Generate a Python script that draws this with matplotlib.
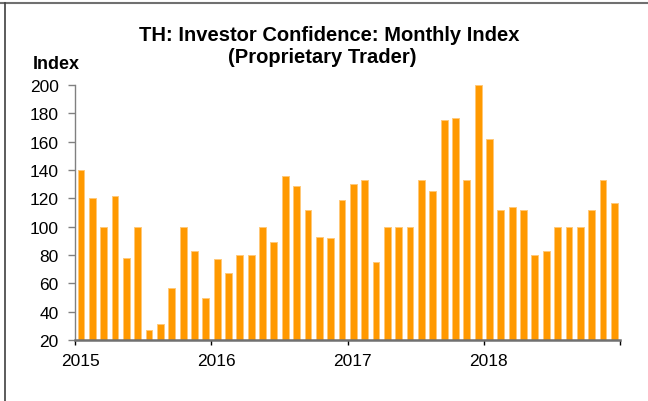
import matplotlib.pyplot as plt
from matplotlib.transforms import ScaledTranslation
import numpy as np

plt.rcParams['font.family'] = ['Liberation Sans', 'DejaVu Sans']

# monthly index, Jan 2015 - Dec 2018
years = ['2015', '2016', '2017', '2018']
values_2015 = [140, 120, 100, 122, 78, 100, 27, 31, 57, 100, 83, 50]
values_2016 = [77, 67, 80, 80, 100, 89, 136, 129, 112, 93, 92, 119]
values_2017 = [130, 133, 75, 100, 100, 100, 133, 125, 175, 177, 133, 200]
values_2018 = [162, 112, 114, 112, 80, 83, 100, 100, 100, 112, 133, 117]
values = values_2015 + values_2016 + values_2017 + values_2018

W, H = 648, 402
fig = plt.figure(figsize=(W / 100, H / 100), dpi=100)
ax = fig.add_axes([75.3 / W, 1 - 341 / H, (620 - 75.3) / W, (341 - 86) / H])

x = np.arange(len(values)) + 0.5
ax.bar(x, np.array(values) - 20, bottom=20, width=0.6,
       color='#FF9900', edgecolor='#FFC878', linewidth=0.7, zorder=2)

ax.set_xlim(0, len(values))
ax.set_ylim(20, 200)
ax.set_yticks(range(20, 201, 20))
ax.set_xticks(range(0, len(values) + 1, 12))
ax.set_xticklabels(years + [''])

for s in ['top', 'right']:
    ax.spines[s].set_visible(False)
ax.spines['left'].set_color('#808080')
ax.spines['left'].set_linewidth(1.0)
ax.spines['bottom'].set_color('#707070')
ax.spines['bottom'].set_linewidth(1.8)
ax.tick_params(axis='y', direction='out', length=5, width=1, color='#808080',
               labelsize=12.5, pad=7)
ax.tick_params(axis='x', direction='out', length=3.6, width=1, color='black',
               labelsize=12.5, pad=6)

# year labels sit a little right of their tick
shift = ScaledTranslation(5 / 100, 0, fig.dpi_scale_trans)
for lab in ax.get_xticklabels():
    lab.set_transform(lab.get_transform() + shift)

fig.text(329 / W, 1 - 40.7 / H, 'TH: Investor Confidence: Monthly Index',
         ha='center', va='baseline', fontsize=14.5, fontweight='bold')
fig.text(322 / W, 1 - 62.7 / H, '(Proprietary Trader)',
         ha='center', va='baseline', fontsize=14.5, fontweight='bold')
fig.text(33 / W, 1 - 69 / H, 'Index', ha='left', va='baseline',
         fontsize=13, fontweight='bold')

# frame lines along top and left edge
fig.add_artist(plt.Line2D([0, 1], [1 - 3.7 / H] * 2, color='#707070', lw=1.5))
fig.add_artist(plt.Line2D([4.7 / W] * 2, [0, 1 - 3.7 / H], color='#404040', lw=1.2))

fig.savefig('out.png', dpi=100)
